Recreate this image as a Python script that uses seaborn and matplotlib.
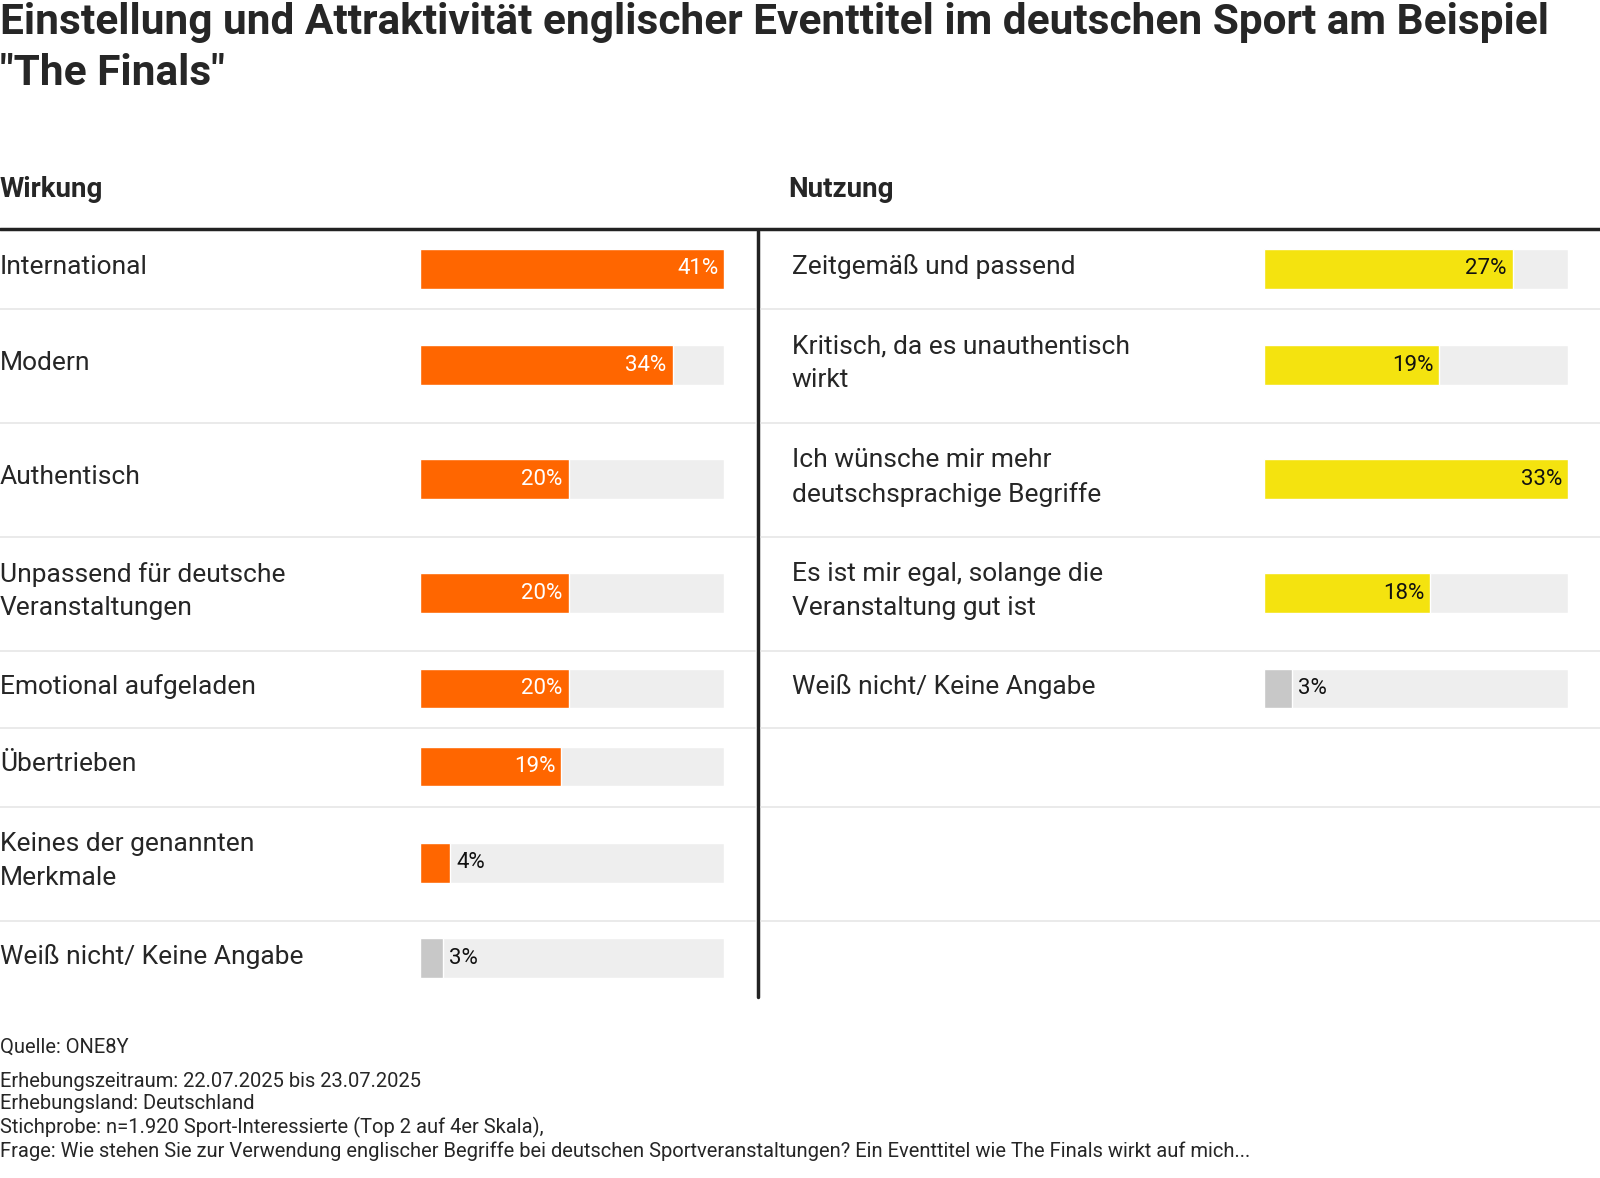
import matplotlib.pyplot as plt
import seaborn as sns

sns.set_theme(style="white")
plt.rcParams['font.family'] = ['Roboto', 'DejaVu Sans']

# data
wirkung_labels = ['International', 'Modern', 'Authentisch', 'Unpassend für deutsche\nVeranstaltungen',
                  'Emotional aufgeladen', 'Übertrieben', 'Keines der genannten\nMerkmale',
                  'Weiß nicht/ Keine Angabe']
wirkung_values = [41, 34, 20, 20, 20, 19, 4, 3]
nutzung_labels = ['Zeitgemäß und passend', 'Kritisch, da es unauthentisch\nwirkt',
                  'Ich wünsche mir mehr\ndeutschsprachige Begriffe',
                  'Es ist mir egal, solange die\nVeranstaltung gut ist', 'Weiß nicht/ Keine Angabe']
nutzung_values = [27, 19, 33, 18, 3]

# layout in reference pixels (1568 x 1155 display)
W, H = 1568, 1155
row_edges = [226, 303, 415, 527, 638, 714, 791, 903, 978]
centers = [(a + b) / 2 - 1 for a, b in zip(row_edges[:-1], row_edges[1:])]

fig = plt.figure(figsize=(16, 11.78), dpi=100)
ax = fig.add_axes([0, 0, 1, 1])
ax.set_xlim(0, W)
ax.set_ylim(H, 0)
ax.axis('off')

ax.text(0, 2, 'Einstellung und Attraktivität englischer Eventtitel im deutschen Sport am Beispiel\n"The Finals"',
        fontsize=30.5, fontweight='bold', va='top', ha='left', linespacing=1.3)
ax.text(0, 186, 'Wirkung', fontsize=20, fontweight='bold', va='center')
ax.text(772, 186, 'Nutzung', fontsize=20, fontweight='bold', va='center')
ax.plot([0, W], [225, 225], color='#222222', lw=2.5)
ax.plot([743, 743], [226, 978], color='#222222', lw=2.5)
for e in row_edges[1:-1]:
    ax.plot([0, 740], [e, e], color='#e6e6e6', lw=1.2)
    ax.plot([746, W], [e, e], color='#e6e6e6', lw=1.2)

for c, lab in zip(centers, wirkung_labels):
    ax.text(0, c - 2, lab, fontsize=19, va='center', linespacing=1.5)
for c, lab in zip(centers, nutzung_labels):
    ax.text(776, c - 2, lab, fontsize=19, va='center', linespacing=1.5)

notes = ['Erhebungszeitraum: 22.07.2025 bis 23.07.2025', 'Erhebungsland: Deutschland',
         'Stichprobe: n=1.920 Sport-Interessierte (Top 2 auf 4er Skala),',
         'Frage: Wie stehen Sie zur Verwendung englischer Begriffe bei deutschen Sportveranstaltungen? Ein Eventtitel wie The Finals wirkt auf mich...']
ax.text(0, 1027, 'Quelle: ONE8Y', fontsize=14.5, va='center')
ax.text(0, 1051, '\n'.join(notes), fontsize=14.5, va='top', linespacing=1.22)


def panel(x0, x1, values, color, dark_text):
    bx = fig.add_axes([x0 / W, 0, (x1 - x0) / W, 1])
    vmax = max(values)
    bx.set_xlim(0, vmax)
    bx.set_ylim(H, 0)
    bx.axis('off')
    ys = centers[:len(values)]
    bx.barh(ys, [vmax] * len(values), height=39, color='#eeeeee')
    n = len(values)
    cols = [color] * (n - 1) + ['#c8c8c8']
    bx.barh(ys, values, height=39, color=cols)
    for y, v in zip(ys, values):
        if v / vmax > 0.2:
            bx.text(v - vmax * 0.02, y, f'{v}%', ha='right', va='center', fontsize=16,
                    color=dark_text)
        else:
            bx.text(v + vmax * 0.02, y, f'{v}%', ha='left', va='center', fontsize=16, color='#111111')


panel(412, 710, wirkung_values, '#ff6600', 'white')
panel(1239, 1537, nutzung_values, '#f4e30f', '#111111')

fig.savefig('out.png', dpi=100)
